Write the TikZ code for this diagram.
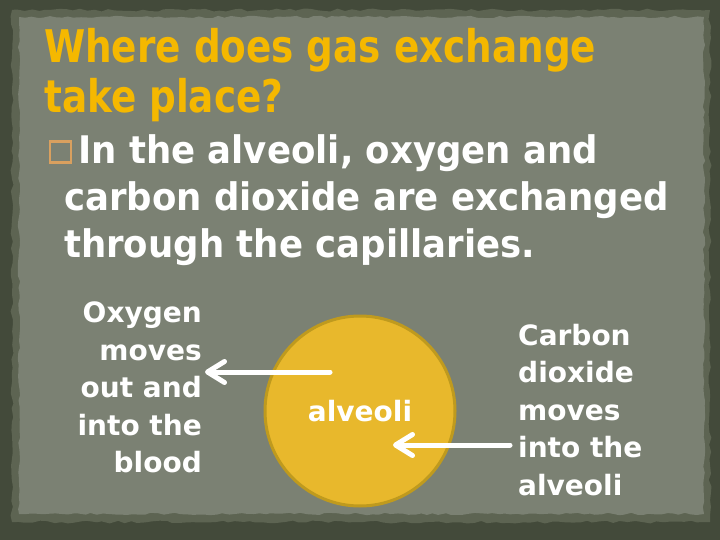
\documentclass[tikz,border=0pt]{standalone}
\usepackage{fontspec}
\setmainfont{DejaVu Sans}
\newfontfamily\titlefont{DejaVu Sans}[FakeStretch=0.83]
\newfontfamily\pointfont{DejaVu Sans}[FakeStretch=0.935]
\usepackage{xcolor}
\usetikzlibrary{calc, positioning, arrows.meta, decorations.pathmorphing}

\definecolor{boardDark}{HTML}{434A3A}
\definecolor{boardEdge}{HTML}{5D6452}
\definecolor{boardFill}{HTML}{7B8173}
\definecolor{titleGold}{HTML}{F5B800}
\definecolor{cellFill}{HTML}{E8B82C}
\definecolor{cellEdge}{HTML}{BF9A1E}
\definecolor{bulletTan}{HTML}{D9A05F}

\begin{document}
\begin{tikzpicture}[x=1pt,y=-1pt,
  sidetext/.style={text=white, inner sep=0pt, font=\fontsize{28}{37.5}\selectfont\bfseries},
  flowarrow/.style={draw=white, line width=5pt, line cap=round, -{Straight Barb[length=17pt,width=21pt,round]}}]

\useasboundingbox (0,0) rectangle (720,540);

% Board background
\fill[boardDark] (0,0) rectangle (720,540);
\fill[boardEdge, decorate, decoration={random steps, segment length=7pt, amplitude=1.5pt}]
  (12,10) rectangle (710,522);
\fill[boardFill, decorate, decoration={random steps, segment length=6pt, amplitude=1.2pt}]
  (19,17) rectangle (704,514);

% Define points
\coordinate (oxyTail) at (330,372);
\coordinate (oxyHead) at (205,372);
\coordinate (coTail) at (510,445);
\coordinate (coHead) at (393,445);

% Title
\node[anchor=north west, inner sep=0pt, align=left, text=titleGold,
  font=\fontsize{45}{50}\selectfont\titlefont\bfseries] (title) at (44,28)
  {Where does gas exchange\\take place?};

% Bullet point
\node[draw=bulletTan, line width=2.6pt, minimum size=21pt, inner sep=0pt] (bullet) at (60.5,152) {};
\node[anchor=north west, inner sep=0pt, align=left, text=white,
  font=\fontsize{38}{47}\selectfont\pointfont\bfseries] (point) at (64,134)
  {\hspace*{14pt}In the alveoli, oxygen and\\
   carbon dioxide are exchanged\\
   through the capillaries.};

% Alveolus
\node[circle, fill=cellFill, draw=cellEdge, line width=3pt, minimum size=190pt,
  text=white, font=\fontsize{28}{30}\selectfont\bfseries] (alveolus) at (360,411) {alveoli};

% Side labels
\node[sidetext, anchor=north east, align=right] (oxygen) at (202,302)
  {Oxygen\\moves\\out and\\into the\\blood};
\node[sidetext, anchor=north west, align=left] (carbon) at (518,324)
  {Carbon\\dioxide\\moves\\into the\\alveoli};

% Arrows
\draw[flowarrow] (oxyTail) -- (oxyHead);
\draw[flowarrow] (coTail) -- (coHead);

\end{tikzpicture}
\end{document}
